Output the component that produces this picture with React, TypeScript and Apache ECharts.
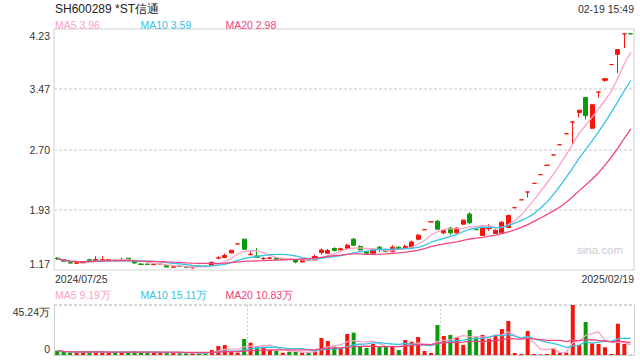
import React, { useEffect, useRef } from 'react';
import * as echarts from 'echarts';

// ---- data ----
const openP = [
  1.32, 1.30, 1.262, 1.254, 1.26, 1.298, 1.292, 1.292, 1.296, 1.294,
  1.292, 1.317, 1.283, 1.243, 1.243, 1.237, 1.24, 1.224, 1.204, 1.217,
  1.207, 1.197, 1.217, 1.216, 1.224, 1.319, 1.326, 1.385, 1.50, 1.56,
  1.362, 1.347, 1.311, 1.317, 1.321, 1.305, 1.311, 1.296, 1.27, 1.294,
  1.296, 1.39, 1.381, 1.441, 1.423, 1.441, 1.56, 1.467, 1.398, 1.381,
  1.458, 1.41, 1.407, 1.458, 1.441, 1.458, 1.56, 1.68, 1.78, 1.789,
  1.64, 1.70, 1.64, 1.751, 1.879, 1.682, 1.607, 1.696, 1.632, 1.64,
  1.709, 1.96, 2.06, 2.16, 2.27, 2.38, 2.50, 2.63, 2.76, 2.90,
  3.05, 3.17, 3.36, 2.97, 3.43, 3.58, 3.78, 3.91, 4.17, 4.172,
];
const closeP = [
  1.31, 1.28, 1.256, 1.26, 1.266, 1.285, 1.301, 1.298, 1.301, 1.292,
  1.298, 1.301, 1.257, 1.239, 1.24, 1.243, 1.242, 1.206, 1.207, 1.213,
  1.204, 1.201, 1.213, 1.214, 1.266, 1.323, 1.352, 1.419, 1.50, 1.432,
  1.368, 1.33, 1.317, 1.322, 1.305, 1.309, 1.308, 1.27, 1.292, 1.29,
  1.339, 1.423, 1.416, 1.416, 1.438, 1.483, 1.483, 1.423, 1.381, 1.423,
  1.432, 1.403, 1.458, 1.432, 1.467, 1.525, 1.611, 1.68, 1.78, 1.687,
  1.668, 1.64, 1.70, 1.802, 1.768, 1.68, 1.709, 1.702, 1.674, 1.776,
  1.862, 1.96, 2.06, 2.16, 2.27, 2.38, 2.50, 2.63, 2.76, 2.90,
  3.05, 3.20, 3.13, 3.27, 3.43, 3.60, 3.78, 3.97, 4.17, 4.17,
];
const lowP = [
  1.30, 1.27, 1.252, 1.252, 1.254, 1.283, 1.283, 1.285, 1.294, 1.29,
  1.283, 1.298, 1.247, 1.234, 1.238, 1.228, 1.238, 1.203, 1.202, 1.21,
  1.20, 1.183, 1.21, 1.21, 1.215, 1.305, 1.317, 1.381, 1.50, 1.426,
  1.356, 1.326, 1.288, 1.305, 1.301, 1.298, 1.305, 1.254, 1.266, 1.288,
  1.288, 1.364, 1.377, 1.403, 1.419, 1.436, 1.474, 1.416, 1.368, 1.377,
  1.398, 1.39, 1.394, 1.426, 1.436, 1.449, 1.543, 1.68, 1.78, 1.678,
  1.623, 1.615, 1.632, 1.742, 1.751, 1.68, 1.607, 1.666, 1.627, 1.632,
  1.70, 1.96, 2.06, 2.09, 2.27, 2.38, 2.50, 2.63, 2.76, 2.90,
  2.77, 3.11, 3.08, 2.96, 3.36, 3.56, 3.78, 3.67, 3.99, 4.17,
];
const highP = [
  1.33, 1.305, 1.265, 1.262, 1.279, 1.311, 1.343, 1.343, 1.305, 1.298,
  1.326, 1.321, 1.292, 1.254, 1.245, 1.254, 1.244, 1.228, 1.21, 1.22,
  1.21, 1.215, 1.234, 1.218, 1.273, 1.343, 1.377, 1.426, 1.50, 1.566,
  1.407, 1.449, 1.33, 1.336, 1.326, 1.313, 1.313, 1.298, 1.296, 1.296,
  1.364, 1.441, 1.436, 1.458, 1.451, 1.50, 1.576, 1.483, 1.407, 1.432,
  1.474, 1.441, 1.483, 1.467, 1.492, 1.543, 1.627, 1.69, 1.78, 1.806,
  1.687, 1.717, 1.709, 1.811, 1.904, 1.682, 1.717, 1.751, 1.683, 1.785,
  1.87, 1.96, 2.06, 2.16, 2.27, 2.38, 2.50, 2.63, 2.76, 2.90,
  3.05, 3.20, 3.36, 3.28, 3.43, 3.61, 3.78, 3.97, 4.17, 4.172,
];
// volume in 万 (10k shares)
const volume = [
  3.9, 2.7, 2.2, 2.4, 2.5, 2.7, 2.9, 2.6, 2.2, 2.5,
  2.8, 2.7, 3.0, 2.3, 2.1, 2.4, 1.8, 2.6, 1.9, 1.6,
  1.7, 2.0, 1.8, 1.9, 4.5, 8.1, 9.0, 3.0, 2.1, 14.5,
  11.1, 7.5, 6.6, 4.5, 3.9, 2.1, 3.0, 3.0, 2.1, 2.1,
  4.5, 15.4, 12.7, 7.5, 6.1, 19.0, 20.2, 7.5, 6.3, 10.0,
  7.5, 7.5, 8.1, 4.5, 13.6, 12.0, 16.3, 3.6, 1.8, 27.1,
  17.2, 18.1, 16.0, 9.0, 22.6, 16.6, 18.1, 14.7, 17.8, 23.5,
  30.8, 1.8, 0.9, 21.7, 0.9, 0.5, 0.9, 6.1, 2.1, 2.1,
  45.24, 9.0, 29.9, 10.6, 10.0, 7.0, 0.9, 28.3, 10.0, 0,
];
const dateLabels = ['2024/07/25', '2025/02/19'];
const priceTicks = [1.168, 1.934, 2.7, 3.466, 4.232];
const volTicks = [0, 45.24];
const titleText = 'SH600289 *ST信通';
const timeText = '02-19 15:49';
const priceLegend = ['MA5 3.96', 'MA10 3.59', 'MA20 2.98'];
const volLegend = ['MA5 9.19万', 'MA10 15.11万', 'MA20 10.83万'];
const watermark = 'sina.com';

// ---- styling ----
const FONT = '"Liberation Sans", Arial, sans-serif';
const RED = '#f5150b';
const GREEN = '#0a9a0a';
const C5 = '#fba3c4';
const C10 = '#35c4e6';
const C20 = '#f0457e';
const TXT = '#333';
const BORDER = '#cfcfcf';

function movingAvg(arr: number[], n: number) {
  return arr.map((_, i) => {
    const s = Math.max(0, i - n + 1);
    let sum = 0;
    for (let j = s; j <= i; j++) sum += arr[j];
    return +(sum / (i - s + 1)).toFixed(4);
  });
}

export default function App() {
  const ref = useRef<HTMLDivElement>(null);
  useEffect(() => {
    document.body.style.margin = '0';
    const chart = echarts.init(ref.current!, null, { renderer: 'svg' });
    const cats = openP.map((_, i) => String(i));
    const candles = openP.map((o, i) => [o, closeP[i], lowP[i], highP[i]]);
    const up = openP.map((o, i) => {
      const c = closeP[i];
      if (c > o) return true;
      if (c < o) return false;
      return i === 0 ? true : closeP[i - 1] <= c;
    });
    const volData = volume.map((v, i) => ({ value: v, itemStyle: { color: up[i] ? RED : GREEN } }));
    const pMin = priceTicks[0];
    const pMax = priceTicks[priceTicks.length - 1];
    const vMax = volTicks[1];
    const lbl = (color: string) => ({ fontSize: 10.5, fontFamily: FONT, color });
    const maLine = (name: string, data: number[], color: string, gi: number) => ({
      name, type: 'line', xAxisIndex: gi, yAxisIndex: gi, data, showSymbol: false, symbol: 'none',
      silent: true, lineStyle: { color, width: 1.3 }, z: 3,
    });
    const textEl = (text: string, x: number, y: number, fill: string, size: number, align = 'left') => ({
      type: 'text', x, y, silent: true,
      style: { text, fill, font: `${size}px ${FONT}`, textAlign: align, textVerticalAlign: 'middle' },
    });

    const option: any = {
      animation: false,
      backgroundColor: '#fff',
      grid: [
        { left: 54, right: 6, top: 29, height: 241, show: true, borderColor: BORDER, borderWidth: 1 },
        { left: 54, right: 6, top: 305, height: 50 },
      ],
      xAxis: [
        {
          type: 'category', gridIndex: 0, data: cats, boundaryGap: true,
          axisLine: { show: false }, axisTick: { show: false }, axisLabel: { show: false }, splitLine: { show: false },
        },
        {
          type: 'category', gridIndex: 1, data: cats, boundaryGap: true,
          axisLine: { show: true, lineStyle: { color: BORDER } }, axisTick: { show: false }, axisLabel: { show: false },
          splitLine: { show: true, interval: (i: number) => i === 30 || i === 60, lineStyle: { color: '#cccccc', type: [2, 2], width: 1 } },
        },
      ],
      yAxis: [
        {
          type: 'value', gridIndex: 0, min: pMin, max: pMax, scale: true,
          axisLine: { show: false }, axisTick: { show: false, customValues: priceTicks },
          splitLine: { show: false },
          axisLabel: {
            customValues: priceTicks, margin: 4, ...lbl(TXT),
            formatter: (v: number) => {
              const s = v.toFixed(2);
              if (Math.abs(v - pMax) < 1e-6) return `{t|${s}}`;
              if (Math.abs(v - pMin) < 1e-6) return `{b|${s}}`;
              return `{m|${s}}`;
            },
            rich: {
              t: { ...lbl(TXT), padding: [13, 0, 0, 0] },
              b: { ...lbl(TXT), padding: [0, 0, 13, 0] },
              m: { ...lbl(TXT) },
            },
          },
        },
        {
          type: 'value', gridIndex: 1, min: 0, max: vMax, interval: vMax,
          axisLine: { show: true, lineStyle: { color: BORDER } }, axisTick: { show: false },
          splitLine: { show: true, lineStyle: { color: '#d6d6d6', type: [3, 2], width: 2 } },
          axisLabel: {
            margin: 4, ...lbl(TXT),
            formatter: (v: number) => (v === 0 ? '{b|0}' : `{t|${v.toFixed(2)}万}`),
            rich: {
              t: { ...lbl(TXT), padding: [13, 0, 0, 0] },
              b: { ...lbl(TXT), padding: [0, 0, 13, 0] },
            },
          },
        },
        {
          type: 'value', gridIndex: 1, position: 'right', min: 0, max: vMax,
          axisLine: { show: true, lineStyle: { color: BORDER } }, axisTick: { show: false },
          axisLabel: { show: false }, splitLine: { show: false },
        },
      ],
      series: [
        {
          name: 'K', type: 'candlestick', xAxisIndex: 0, yAxisIndex: 0, data: candles, barWidth: '72%',
          itemStyle: { color: RED, color0: GREEN, borderColor: RED, borderColor0: GREEN, borderColorDoji: RED, borderWidth: 1 },
          z: 2,
        },
        {
          ...maLine('MA5', movingAvg(closeP, 5), C5, 0),
          markLine: {
            silent: true, symbol: 'none', label: { show: false },
            lineStyle: { color: '#e3e3e3', type: [3, 2], width: 2 },
            data: priceTicks.slice(1, -1).map((v) => ({ yAxis: v })),
            z: 1,
          },
        },
        maLine('MA10', movingAvg(closeP, 10), C10, 0),
        maLine('MA20', movingAvg(closeP, 20), C20, 0),
        {
          name: 'VOL', type: 'bar', xAxisIndex: 1, yAxisIndex: 1, data: volData, barWidth: '62%', z: 2,
        },
        { ...maLine('VMA5', movingAvg(volume, 5), C5, 1), yAxisIndex: 1 },
        { ...maLine('VMA10', movingAvg(volume, 10), C10, 1), yAxisIndex: 1 },
        { ...maLine('VMA20', movingAvg(volume, 20), C20, 1), yAxisIndex: 1 },
      ],
      graphic: [
        textEl(titleText, 55, 9, '#222', 12),
        textEl(timeText, 634, 9, TXT, 10.5, 'right'),
        textEl(priceLegend[0], 55, 24.5, C5, 10.5),
        textEl(priceLegend[1], 140.5, 24.5, C10, 10.5),
        textEl(priceLegend[2], 225.5, 24.5, C20, 10.5),
        textEl(dateLabels[0], 55, 278.5, TXT, 10.5),
        textEl(dateLabels[1], 634, 278.5, TXT, 10.5, 'right'),
        textEl(volLegend[0], 55, 295, C5, 10.5),
        textEl(volLegend[1], 140.5, 295, C10, 10.5),
        textEl(volLegend[2], 225.5, 295, C20, 10.5),
        textEl(watermark, 623, 249.5, '#cccccc', 11.5, 'right'),
      ],
    };
    chart.setOption(option);
    return () => chart.dispose();
  }, []);
  return <div ref={ref} style={{ width: 640, height: 360 }} />;
}
